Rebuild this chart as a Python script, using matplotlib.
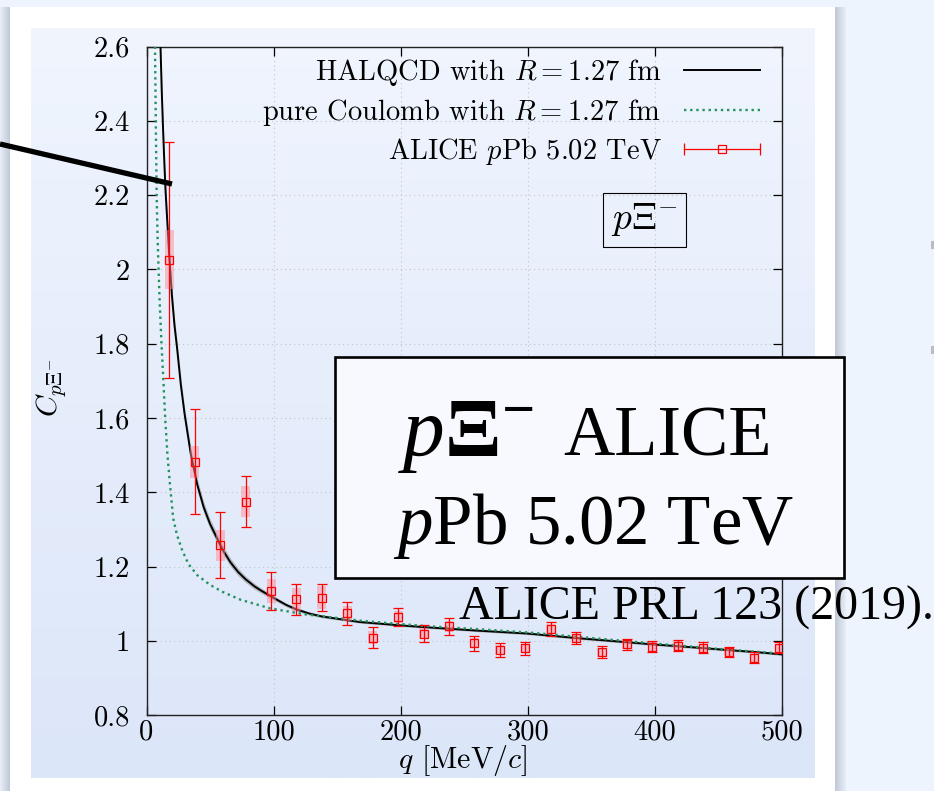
import numpy as np
import matplotlib
matplotlib.use("Agg")
import matplotlib.pyplot as plt
from matplotlib.lines import Line2D
from matplotlib.patches import Rectangle
from matplotlib.legend_handler import HandlerLine2D

plt.rcParams['font.family'] = ['cmr10']
plt.rcParams['mathtext.fontset'] = 'cm'
plt.rcParams['axes.formatter.use_mathtext'] = True
# used only by the overlay texts (math_fontfamily='custom')
plt.rcParams['mathtext.rm'] = 'Liberation Serif'
plt.rcParams['mathtext.it'] = 'Liberation Serif:italic'
plt.rcParams['mathtext.bf'] = 'Liberation Serif:bold'

# ALICE pPb 5.02 TeV data
q_data = [18, 38, 58, 78, 98, 118, 138, 158, 178, 198, 218, 238, 258,
          278, 298, 318, 338, 358, 378, 398, 418, 438, 458, 478, 498]
c_data = [2.026, 1.483, 1.258, 1.375, 1.135, 1.112, 1.117, 1.074, 1.009,
          1.065, 1.020, 1.039, 0.994, 0.976, 0.980, 1.033, 1.007, 0.970,
          0.991, 0.985, 0.987, 0.982, 0.971, 0.955, 0.982]
stat_err = [0.317, 0.142, 0.088, 0.069, 0.051, 0.042, 0.036, 0.032, 0.028,
            0.025, 0.024, 0.022, 0.020, 0.019, 0.018, 0.019, 0.016, 0.017,
            0.015, 0.015, 0.015, 0.014, 0.013, 0.015, 0.014]
syst_err = [0.080, 0.043, 0.042, 0.042, 0.033, 0.030, 0.030, 0.021, 0.017,
            0.016, 0.015, 0.015, 0.014, 0.014, 0.013, 0.013, 0.013, 0.012,
            0.012, 0.012, 0.012, 0.011, 0.011, 0.011, 0.011]

# HALQCD curve with R = 1.27 fm
q_hal = [11, 12, 13, 14, 15, 16, 18, 20, 22, 24, 27, 30, 35, 40, 45, 50, 55,
         60, 66, 72, 78, 85, 90, 100, 110, 118, 128, 138, 158, 168, 200, 220,
         260, 300, 338, 370, 398, 430, 456, 480, 500]
c_hal = [2.60, 2.48, 2.38, 2.29, 2.21, 2.15, 2.03, 1.93, 1.85, 1.79, 1.69,
         1.61, 1.50, 1.42, 1.36, 1.315, 1.28, 1.245, 1.212, 1.186, 1.166,
         1.147, 1.136, 1.116, 1.097, 1.085, 1.074, 1.066, 1.056, 1.051,
         1.042, 1.037, 1.028, 1.020, 1.008, 0.999, 0.991, 0.983, 0.976,
         0.970, 0.964]
band_hal = [0.04, 0.036, 0.033, 0.03, 0.028, 0.026, 0.024, 0.022, 0.021, 0.02,
            0.019, 0.018, 0.017, 0.016, 0.015, 0.014, 0.013, 0.012, 0.011,
            0.010, 0.009, 0.008, 0.007, 0.006, 0.005, 0.005, 0.004, 0.004,
            0.003, 0.003, 0.003, 0.003, 0.003, 0.003, 0.003, 0.003, 0.003,
            0.003, 0.003, 0.003, 0.003]

# pure Coulomb with R = 1.27 fm
q_coul = [6.7, 7.3, 8.0, 8.7, 9.5, 10.5, 11.8, 13.2, 14.7, 16.5, 18.5, 21,
          24, 28, 33, 40, 50, 60, 74, 97, 124, 150, 170, 220, 260, 300, 340,
          400, 456, 500]
c_coul = [2.60, 2.40, 2.20, 2.09, 2.00, 1.90, 1.80, 1.707, 1.60, 1.50, 1.42,
          1.33, 1.285, 1.245, 1.207, 1.177, 1.151, 1.132, 1.111, 1.088, 1.072,
          1.062, 1.054, 1.040, 1.032, 1.023, 1.011, 0.993, 0.977, 0.966]

xticks = [0, 100, 200, 300, 400, 500]
xtick_labels = ['0', '100', '200', '300', '400', '500']
yticks = [0.8, 1.0, 1.2, 1.4, 1.6, 1.8, 2.0, 2.2, 2.4, 2.6]
ytick_labels = ['0.8', '1', '1.2', '1.4', '1.6', '1.8', '2', '2.2', '2.4', '2.6']

labels = [r'HALQCD with $R = 1.27$ fm',
          r'pure Coulomb with $R = 1.27$ fm',
          r'ALICE $p$Pb 5.02 TeV']

GREEN = '#23925f'
W, H = 934, 791


def fx(x):
    return x / W


def fy(y):
    return 1 - y / H


fig = plt.figure(figsize=(W / 100, H / 100), dpi=100, facecolor='#eef4fe')

# slide: white panel with soft shadows
fig.add_artist(Rectangle((fx(10), 0), fx(835) - fx(10), fy(7), transform=fig.transFigure,
                         facecolor='white', edgecolor='none', zorder=-20))
for x0, x1, flip in [(0, 10, False), (835, 846, True)]:
    sh = fig.add_axes([fx(x0), 0, fx(x1) - fx(x0), fy(7)], zorder=-19)
    g = np.linspace(0, 1, 32)
    if flip:
        g = g[::-1]
    sh.imshow(g[None, :], aspect='auto', cmap=matplotlib.colors.LinearSegmentedColormap.from_list(
        's', ['#e9eef8', '#bfc8d6']), extent=[0, 1, 0, 1])
    sh.axis('off')

# plot background gradient
bg = fig.add_axes([fx(31), fy(778), fx(815) - fx(31), fy(28) - fy(778)], zorder=-10)
bg.imshow(np.linspace(0, 1, 256)[:, None], aspect='auto', extent=[0, 1, 0, 1],
          cmap=matplotlib.colors.LinearSegmentedColormap.from_list('b', ['#f0f5fe', '#dce6f9']))
bg.axis('off')

ax = fig.add_axes([fx(146.5), fy(715.3), fx(782) - fx(146.5), fy(46.5) - fy(715.3)], zorder=0)
ax.set_facecolor('none')

ax.fill_between(q_hal, np.array(c_hal) - np.array(band_hal), np.array(c_hal) + np.array(band_hal),
                color='#8a8a8a', alpha=0.5, lw=0, zorder=2)
ax.plot(q_hal, c_hal, color='black', lw=1.4, zorder=3)
ax.plot(q_coul, c_coul, color=GREEN, lw=1.7, ls=(0, (1, 1.6)), zorder=3)

for q, c, s in zip(q_data, c_data, syst_err):
    ax.add_patch(Rectangle((q - 3.5, c - s), 7, 2 * s, facecolor=(1, 0.55, 0.6, 0.5),
                           edgecolor='none', zorder=3))
ax.errorbar(q_data, c_data, yerr=stat_err, fmt='s', mfc='none', mec='red', ms=5.3, mew=0.9,
            ecolor='red', elinewidth=0.9, capsize=3.6, capthick=0.9, zorder=4)

ax.set_xlim(0, 500)
ax.set_ylim(0.8, 2.6)
ax.set_xticks(xticks)
ax.set_xticklabels(xtick_labels)
ax.set_yticks(yticks)
ax.set_yticklabels(ytick_labels)
ax.tick_params(direction='in', top=True, right=True, length=6.5, width=0.9, labelsize=20.5)
ax.tick_params(axis='y', pad=12)
ax.tick_params(axis='x', pad=3)
ax.grid(True, color='#c4c4c4', lw=0.8, ls=(0, (1, 3)))
for sp in ax.spines.values():
    sp.set_linewidth(1.0)
    sp.set_color('#222222')

ax.set_xlabel(r'$q$ [MeV/$c$]', fontsize=21.5)
ax.xaxis.set_label_coords(0.498, -0.042)
ax.set_ylabel(r'$C_{p\Xi^{-}}$', fontsize=21.5)
ax.yaxis.set_label_coords(-0.124, 0.49)

h1 = Line2D([], [], color='black', lw=1.4)
h2 = Line2D([], [], color=GREEN, lw=1.7, ls=(0, (1, 1.6)))
h3a = Line2D([], [], color='red', lw=0.9, marker='|', ms=9, mew=0.9)
h3b = Line2D([], [], ls='none', marker='s', mfc='none', mec='red', ms=5.3, mew=0.9)
ax.legend([h1, h2, (h3a, h3b)], labels, loc='upper right', bbox_to_anchor=(0.965, 0.984),
          frameon=False, markerfirst=False, handlelength=2.65, handletextpad=0.8,
          labelspacing=0.3, borderpad=0, borderaxespad=0, fontsize=20.5,
          handler_map={h3a: HandlerLine2D(numpoints=2, marker_pad=0)})

ax.text(0.784, 0.7406, r'$p\Xi^{-}$', transform=ax.transAxes, fontsize=27, ha='center',
        va='center', bbox=dict(boxstyle='square,pad=0.22', fc='none', ec='black', lw=0.8))

# thick pointer line from the slide
fig.add_artist(Line2D([0, fx(172)], [fy(144), fy(184)], transform=fig.transFigure,
                      color='black', lw=3.8, solid_capstyle='butt', zorder=20))

# overlay label box
fig.add_artist(Rectangle((fx(334.5), fy(578)), fx(844) - fx(334.5), fy(357) - fy(578),
                         transform=fig.transFigure, facecolor='#f8f9fe', edgecolor='black',
                         lw=1.9, zorder=21))
fig.text(fx(398), fy(455), r'$\mathit{p}\mathbf{\Xi}^{\mathbf{-}}$', fontsize=60,
         family='Liberation Serif', math_fontfamily='custom', ha='left', va='baseline', zorder=22)
fig.text(fx(772), fy(455), 'ALICE', fontsize=51, family='Liberation Serif',
         ha='right', va='baseline', zorder=22)
fig.text(fx(594), fy(544), r'$\mathit{p}$Pb 5.02 TeV', fontsize=51,
         family='Liberation Serif', math_fontfamily='custom', ha='center', va='baseline', zorder=22)
fig.text(fx(459), fy(620), 'ALICE PRL 123 (2019).', fontsize=34.5, family='Liberation Serif',
         ha='left', va='baseline', zorder=22)

# bits of the next slide element at the right edge
for yy in [245, 350]:
    fig.add_artist(Rectangle((fx(931), fy(yy + 4)), fx(3), 8 / H, transform=fig.transFigure,
                             facecolor='#b8bcc6', edgecolor='none', zorder=-5))

fig.savefig('out.png', dpi=100, facecolor=fig.get_facecolor())
